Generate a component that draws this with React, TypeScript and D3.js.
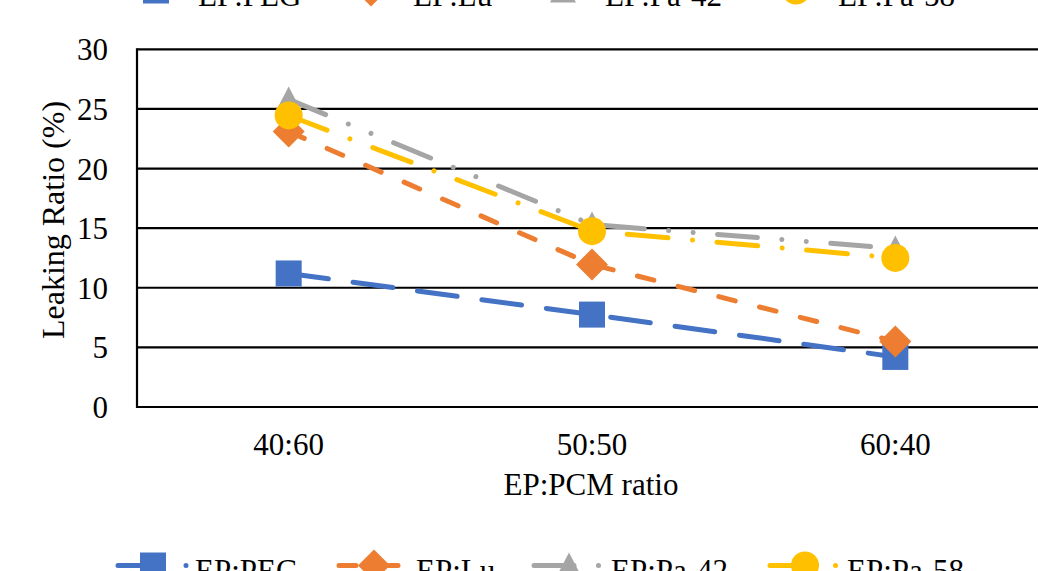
import React from "react";
import * as d3 from "d3";

const categories = ["40:60", "50:50", "60:40"];
const seriesNames = ["EP:PEG", "EP:Lu", "EP:Pa-42", "EP:Pa-58"];
const pegValues = [11.2, 7.75, 4.2];
const luValues = [23.1, 11.95, 5.5];
const pa42Values = [25.8, 15.3, 13.3];
const pa58Values = [24.45, 14.75, 12.5];
const yTicks = [0, 5, 10, 15, 20, 25, 30];

const colors = ["#4472C4", "#ED7D31", "#A5A5A5", "#FFC000"];
const dashes = ["40 25", "17 25", "40 24.5 0.01 24.5 0.01 24.5", "41 24.5 0.01 24.5"];
const legendDashes = ["40 28 0.01 30", "17 25", "40 24.5 0.01 24.5 0.01 24.5", "41 24.5 0.01 24.5"];
const markers = ["square", "diamond", "triangle", "circle"];

const W = 1038;
const H = 571;
const plotLeft = 137;
const plotRight = 1047;
const plotTop = 49.3;
const plotBottom = 407;
const FONT = "'Liberation Serif', 'Times New Roman', serif";
const FS = 31;

function Marker({ kind, x, y, color }: { kind: string; x: number; y: number; color: string }) {
  if (kind === "square") {
    return <rect x={x - 13} y={y - 13} width={26} height={26} fill={color} />;
  }
  if (kind === "diamond") {
    const r = 16;
    return <path d={`M${x},${y - r}L${x + r},${y}L${x},${y + r}L${x - r},${y}Z`} fill={color} />;
  }
  if (kind === "triangle") {
    return <path d={`M${x},${y - 13}L${x + 13},${y + 12}L${x - 13},${y + 12}Z`} fill={color} />;
  }
  return <circle cx={x} cy={y} r={14} fill={color} />;
}

export default function App() {
  const allSeries = [pegValues, luValues, pa42Values, pa58Values];
  const x = d3.scalePoint<string>().domain(categories).range([plotLeft, plotRight]).padding(0.5);
  const y = d3.scaleLinear().domain([0, 30]).range([plotBottom, plotTop]);
  const line = d3
    .line<number>()
    .x((_, i) => x(categories[i]) as number)
    .y((d) => y(d));

  const bottomTextX = [195, 416, 611, 847];
  const topTextX = [198, 413, 605, 838];

  const legend = (textXs: number[], baseY: number, key: string) => (
    <g key={key}>
      {seriesNames.map((name, i) => {
        const mx = textXs[i] - 42;
        const ly = baseY - 15.5;
        return (
          <g key={name}>
            <line
              x1={mx - 35}
              x2={mx + 35}
              y1={ly}
              y2={ly}
              stroke={colors[i]}
              strokeWidth={5}
              strokeLinecap="round"
              strokeDasharray={legendDashes[i]}
            />
            <Marker kind={markers[i]} x={mx} y={ly} color={colors[i]} />
            <text x={textXs[i]} y={baseY} fontFamily={FONT} fontSize={FS} fill="#000">
              {name}
            </text>
          </g>
        );
      })}
    </g>
  );

  return (
    <svg
      width={W}
      height={H}
      style={{ position: "fixed", left: 0, top: 0, background: "#fff" }}
      viewBox={`0 0 ${W} ${H}`}
    >
      <rect x={0} y={0} width={W} height={H} fill="#fff" />
      {yTicks.map((t) => (
        <g key={t}>
          <line x1={plotLeft} x2={plotRight} y1={y(t)} y2={y(t)} stroke="#000" strokeWidth={2.2} />
          <text
            x={108}
            y={y(t) + 11}
            textAnchor="end"
            fontFamily={FONT}
            fontSize={FS}
            fill="#000"
          >
            {t}
          </text>
        </g>
      ))}
      <line x1={plotLeft} x2={plotLeft} y1={plotTop - 1} y2={plotBottom + 1} stroke="#000" strokeWidth={2.2} />
      {categories.map((c) => (
        <text key={c} x={x(c)} y={455} textAnchor="middle" fontFamily={FONT} fontSize={FS} fill="#000">
          {c}
        </text>
      ))}
      <text x={591} y={495} textAnchor="middle" fontFamily={FONT} fontSize={FS} fill="#000">
        EP:PCM ratio
      </text>
      <text
        transform={`translate(64,220) rotate(-90)`}
        textAnchor="middle"
        fontFamily={FONT}
        fontSize={32}
        fill="#000"
      >
        Leaking Ratio (%)
      </text>
      {allSeries.map((vals, i) => (
        <g key={seriesNames[i]}>
          <path
            d={line(vals) || ""}
            fill="none"
            stroke={colors[i]}
            strokeWidth={5}
            strokeLinecap="round"
            strokeDasharray={dashes[i]}
          />
          {vals.map((v, j) => (
            <Marker key={j} kind={markers[i]} x={x(categories[j]) as number} y={y(v)} color={colors[i]} />
          ))}
        </g>
      ))}
      {legend(bottomTextX, 581, "bottom")}
      {legend(topTextX, 6, "top")}
    </svg>
  );
}
